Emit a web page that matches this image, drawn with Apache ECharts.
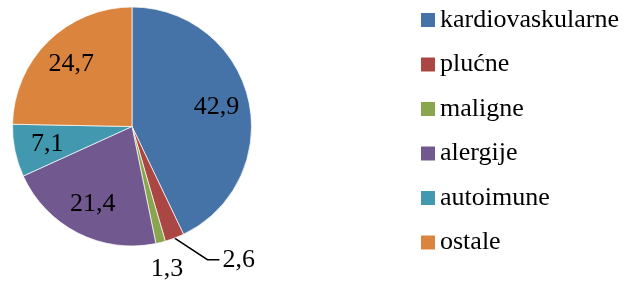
<!DOCTYPE html>
<html>
<head>
<meta charset="utf-8">
<script src="https://cdn.jsdelivr.net/npm/echarts@6/dist/echarts.min.js"></script>
<style>
  html, body { margin: 0; padding: 0; background: #fff; }
  #chart { width: 627px; height: 285px; }
</style>
</head>
<body>
<div id="chart"></div>
<script>
// chart data
const categories = ['kardiovaskularne', 'plućne', 'maligne', 'alergije', 'autoimune', 'ostale']
const values = [42.9, 2.6, 1.3, 21.4, 7.1, 24.7]
const colors = ['#4572A7', '#AA4643', '#89A54E', '#71588F', '#4198AF', '#DB843D']

const FONT = '"Liberation Serif", serif'
const R = 119.5
const fmt = v => v.toFixed(1).replace('.', ',')

const chart = echarts.init(document.getElementById('chart'))

// main slices; small slices get their label outside
const mainData = categories.map((name, i) => {
  const item = { name, value: values[i] }
  if (values[i] < 5) {
    item.label = { show: true }
    item.labelLine = i === 2 ? { show: false, length: 14, length2: 0 } : { show: true, length: 22, length2: 12 }
  }
  return item
})

// transparent ring, only used to put the big labels further out
const ringData = categories.map((name, i) => ({
  name, value: values[i], label: { show: values[i] >= 5 }
}))

const labelText = { fontFamily: FONT, fontSize: 26, color: '#000' }

chart.setOption({
  animation: false,
  color: colors,
  textStyle: { fontFamily: FONT },
  legend: {
    orient: 'vertical',
    left: 421,
    top: 7,
    padding: 0,
    icon: 'rect',
    itemWidth: 14,
    itemHeight: 14,
    itemGap: 18.5,
    selectedMode: false,
    itemStyle: { borderWidth: 0 },
    data: categories,
    textStyle: { fontFamily: FONT, fontSize: 26, color: '#000', lineHeight: 26 }
  },
  series: [
    {
      type: 'pie',
      center: [132, 126.5],
      radius: [0, R],
      startAngle: 90,
      clockwise: true,
      silent: true,
      avoidLabelOverlap: false,
      itemStyle: { borderColor: '#fff', borderWidth: 0.7 },
      label: Object.assign({
        show: false,
        position: 'outside',
        distanceToLabelLine: 3,
        formatter: p => fmt(p.value)
      }, labelText),
      labelLine: { lineStyle: { color: '#000', width: 1.5 } },
      labelLayout: p => {
        if (p.dataIndex === 2) return { align: 'center', verticalAlign: 'top' }
        if (p.dataIndex === 1 && p.labelLinePoints) {
          // stretch the leader line sideways, like the original
          const pts = p.labelLinePoints
          const dx = 25
          const end = [pts[2][0] + dx, pts[2][1] + 1]
          return {
            dx, dy: 1,
            labelLinePoints: [pts[0], [end[0] - 12, end[1]], end]
          }
        }
        return {}
      },
      data: mainData
    },
    {
      type: 'pie',
      center: [132, 126.5],
      radius: [0.4 * R, R],
      startAngle: 90,
      clockwise: true,
      silent: true,
      itemStyle: { color: 'transparent' },
      label: Object.assign({
        position: 'inside',
        formatter: p => fmt(p.value)
      }, labelText),
      labelLine: { show: false },
      data: ringData
    }
  ]
})
</script>
</body>
</html>
